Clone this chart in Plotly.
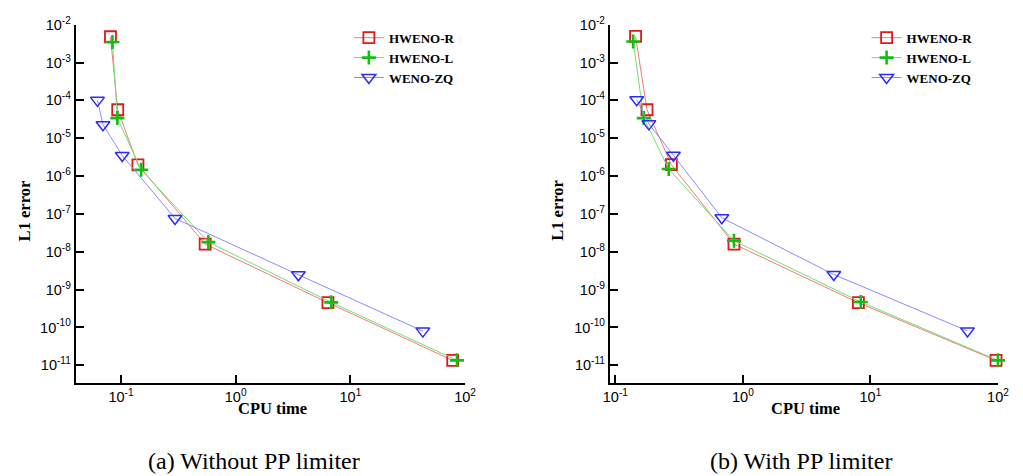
import plotly.graph_objects as go

# CPU time (s) vs L1 error, without the positivity-preserving limiter
cpu_r_a = [0.081, 0.0937, 0.1406, 0.542, 6.37, 78.0]
err_r_a = [4.8e-3, 5.65e-5, 1.98e-6, 1.6e-8, 4.5e-10, 1.35e-11]
cpu_l_a = [0.0843, 0.093, 0.150, 0.578, 6.8, 85.0]
err_l_a = [3.5e-3, 3.4e-5, 1.47e-6, 1.8e-8, 4.6e-10, 1.35e-11]
cpu_zq_a = [0.0624, 0.0697, 0.1026, 0.296, 3.52, 42.8]
err_zq_a = [1.0e-4, 2.28e-5, 3.5e-6, 7.6e-8, 2.47e-9, 8.0e-11]

# CPU time (s) vs L1 error, with the positivity-preserving limiter
cpu_r_b = [0.144, 0.177, 0.275, 0.851, 8.05, 96.6]
err_r_b = [4.9e-3, 5.65e-5, 2.0e-6, 1.6e-8, 4.5e-10, 1.35e-11]
cpu_l_b = [0.138, 0.167, 0.262, 0.851, 8.4, 100.0]
err_l_b = [3.6e-3, 3.4e-5, 1.53e-6, 1.95e-8, 4.7e-10, 1.35e-11]
cpu_zq_b = [0.147, 0.183, 0.285, 0.684, 5.16, 57.7]
err_zq_b = [1.04e-4, 2.4e-5, 3.55e-6, 7.9e-8, 2.5e-9, 8.1e-11]

series_names = ["HWENO-R", "HWENO-L", "WENO-ZQ"]
y_exps = list(range(-11, -1))
x_exps = [-1, 0, 1, 2]
captions = ["(a) Without PP limiter", "(b) With PP limiter"]

styles = [
    dict(line=dict(color="#f27a7a", width=1),
         marker=dict(symbol="square-open", size=11, color="#e01818", line=dict(width=1.8))),
    dict(line=dict(color="#6fe06f", width=1),
         marker=dict(symbol="cross-thin-open", size=10, color="#10c010", line=dict(width=2.6))),
    dict(line=dict(color="#8a8aff", width=1),
         marker=dict(symbol="triangle-down-open", size=12, color="#2a2aff", line=dict(width=1.5))),
]

W, H = 1023, 476
panels = [
    dict(data=[(cpu_r_a, err_r_a), (cpu_l_a, err_l_a), (cpu_zq_a, err_zq_a)],
         xdom=[70 / W, 466.3 / W], xrange=[-1.394, 2.0], legend="legend"),
    dict(data=[(cpu_r_b, err_r_b), (cpu_l_b, err_l_b), (cpu_zq_b, err_zq_b)],
         xdom=[613.7 / W, 1008.7 / W], xrange=[-1.043, 2.0], legend="legend2"),
]
ydom = [95.3 / H, 461 / H]
yrange = [-11.46, -2.0]

fig = go.Figure()
tick_font = dict(family="Liberation Sans, Arial", size=14.5, color="black")
serif = "Liberation Serif, Times New Roman"

for i, p in enumerate(panels):
    xa = "x" if i == 0 else "x2"
    ya = "y" if i == 0 else "y2"
    for name, (xs, ys), st in zip(series_names, p["data"], styles):
        fig.add_trace(go.Scatter(
            x=xs, y=ys, name=name, mode="lines+markers",
            line=st["line"], marker=st["marker"], cliponaxis=False,
            xaxis=xa, yaxis=ya, legend=p["legend"],
        ))
    axis_common = dict(showline=True, linecolor="black", linewidth=2,
                       ticks="inside", ticklen=8, tickwidth=2, tickcolor="black",
                       showgrid=False, zeroline=False, tickfont=tick_font,
                       type="log")
    key = "" if i == 0 else "2"
    fig.layout["xaxis" + key] = dict(
        axis_common, domain=p["xdom"], range=p["xrange"], anchor=ya,
        tickvals=[10 ** e for e in x_exps],
        ticktext=[f"10<sup>{e}</sup>" for e in x_exps])
    fig.layout["yaxis" + key] = dict(
        axis_common, domain=ydom, range=yrange, anchor=xa,
        tickvals=[10 ** e for e in y_exps],
        ticktext=[f"10<sup>{e}</sup>" for e in y_exps])

title_font = dict(family=serif, size=16.5, color="black", weight="bold")
annotations = []
for cx_title, cx_y in [(270, 18), (813, 561)]:
    annotations.append(dict(text="CPU time", x=cx_title / W, y=1 - 407 / H,
                            xref="paper", yref="paper", showarrow=False,
                            xanchor="center", yanchor="middle", font=title_font))
    annotations.append(dict(text="L1 error", x=cx_y / W, y=1 - 205 / H,
                            xref="paper", yref="paper", showarrow=False, textangle=-90,
                            xanchor="center", yanchor="middle", font=title_font))
for cap, cx in zip(captions, [251, 808]):
    annotations.append(dict(text=cap, x=cx / W, y=1 - 461 / H, xref="paper", yref="paper",
                            showarrow=False, xanchor="center", yanchor="middle",
                            font=dict(family=serif, size=24, color="black")))

legend_common = dict(font=dict(family=serif, size=13, color="black", weight="bold"),
                     bgcolor="rgba(0,0,0,0)", xanchor="left", yanchor="top",
                     tracegroupgap=0, itemwidth=30)
fig.update_layout(
    width=W, height=H, margin=dict(l=0, r=0, t=0, b=0),
    paper_bgcolor="white", plot_bgcolor="white",
    showlegend=True,
    legend=dict(legend_common, x=348 / W, y=1 - 13 / H),
    legend2=dict(legend_common, x=875 / W, y=1 - 13 / H),
    annotations=annotations,
)

fig.write_html("out.html")
